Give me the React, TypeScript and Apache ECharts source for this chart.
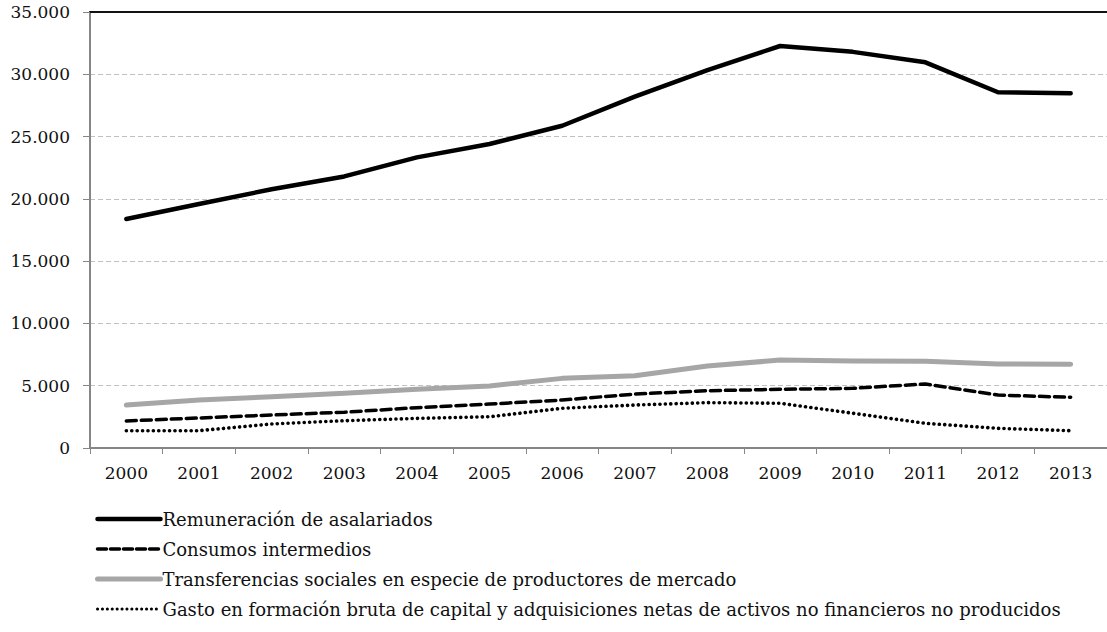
import React, { useEffect, useRef } from "react";
import * as echarts from "echarts";

const years = ["2000", "2001", "2002", "2003", "2004", "2005", "2006", "2007", "2008", "2009", "2010", "2011", "2012", "2013"];
const remuneracion = [18380, 19590, 20770, 21800, 23330, 24400, 25870, 28200, 30340, 32270, 31800, 30960, 28560, 28480];
const consumos = [2170, 2410, 2650, 2870, 3240, 3530, 3850, 4330, 4600, 4710, 4790, 5140, 4250, 4070];
const transferencias = [3450, 3850, 4120, 4390, 4710, 4980, 5590, 5800, 6580, 7060, 6980, 6960, 6740, 6720];
const gasto = [1390, 1390, 1930, 2190, 2380, 2510, 3190, 3450, 3640, 3590, 2790, 1980, 1580, 1390];

const names = [
  "Remuneración de asalariados",
  "Consumos intermedios",
  "Transferencias sociales en especie de productores de mercado",
  "Gasto en formación bruta de capital y adquisiciones netas de activos no financieros no producidos",
];

const FONT = "DejaVu Serif";

export default function App() {
  const ref = useRef<HTMLDivElement>(null);
  useEffect(() => {
    if (!ref.current) return;
    const chart = echarts.init(ref.current, undefined, { renderer: "svg" });
    const fmt = (v: number) => String(v).replace(/\B(?=(\d{3})+(?!\d))/g, ".");
    const styles = [
      { color: "#000", width: 4.5, type: "solid" as any },
      { color: "#000", width: 3.5, type: [10, 5] as any },
      { color: "#a6a6a6", width: 5, type: "solid" as any },
      { color: "#000", width: 3.6, type: [0.1, 5.3] as any },
    ];
    const legendStyles = [
      { color: "#000", width: 4.5, type: "solid" as any },
      { color: "#000", width: 3.5, type: [9, 4] as any },
      { color: "#a6a6a6", width: 5, type: "solid" as any },
      { color: "#000", width: 3, type: [0.1, 4.8] as any },
    ];
    const datas = [remuneracion, consumos, transferencias, gasto];
    chart.setOption({
      animation: false,
      backgroundColor: "#ffffff",
      textStyle: { fontFamily: FONT },
      grid: { left: 90, top: 12, width: 1018, height: 436, containLabel: false },
      legend: {
        orient: "vertical",
        left: 90,
        top: 505,
        itemWidth: 63,
        itemHeight: 16,
        itemGap: 12,
        itemStyle: { opacity: 0 },
        textStyle: { fontFamily: FONT, fontSize: 18, color: "#111", padding: [0, 0, 0, -3] },
        data: names.map((n, i) => ({
          name: n,
          itemStyle: { opacity: 0 },
          lineStyle: { color: legendStyles[i].color, width: legendStyles[i].width, type: legendStyles[i].type, cap: "round" },
        })),
      },
      xAxis: [
        {
          type: "category",
          data: years,
          boundaryGap: true,
          axisLine: { lineStyle: { color: "#868686", width: 2 } },
          axisTick: { show: true, length: 6, lineStyle: { color: "#868686", width: 1 } },
          axisLabel: { fontFamily: FONT, fontSize: 17, color: "#111", margin: 16 },
          splitLine: { show: false },
        },
        {
          type: "category",
          data: years,
          position: "top",
          axisLine: { lineStyle: { color: "#111", width: 2 } },
          axisTick: { show: false },
          axisLabel: { show: false },
          splitLine: { show: false },
        },
      ],
      yAxis: {
        type: "value",
        min: 0,
        max: 35000,
        interval: 5000,
        axisLine: { show: true, lineStyle: { color: "#868686", width: 2 } },
        axisTick: { show: true, length: 7, lineStyle: { color: "#868686", width: 1 } },
        axisLabel: { fontFamily: FONT, fontSize: 17, color: "#111", margin: 20, formatter: fmt },
        splitLine: { show: true, lineStyle: { color: "#c0c0c0", type: [5, 3], width: 1 } },
      },
      series: names.map((n, i) => ({
        name: n,
        type: "line",
        data: datas[i],
        symbol: "none",
        lineStyle: { color: styles[i].color, width: styles[i].width, type: styles[i].type, cap: "round", join: "round" },
        itemStyle: { color: styles[i].color },
        z: i === 2 ? 3 : i === 0 ? 5 : 4,
      })),
    });
    return () => chart.dispose();
  }, []);
  return (
    <div
      ref={ref}
      style={{ position: "absolute", left: 0, top: 0, width: 1107, height: 632, background: "#fff" }}
    />
  );
}
